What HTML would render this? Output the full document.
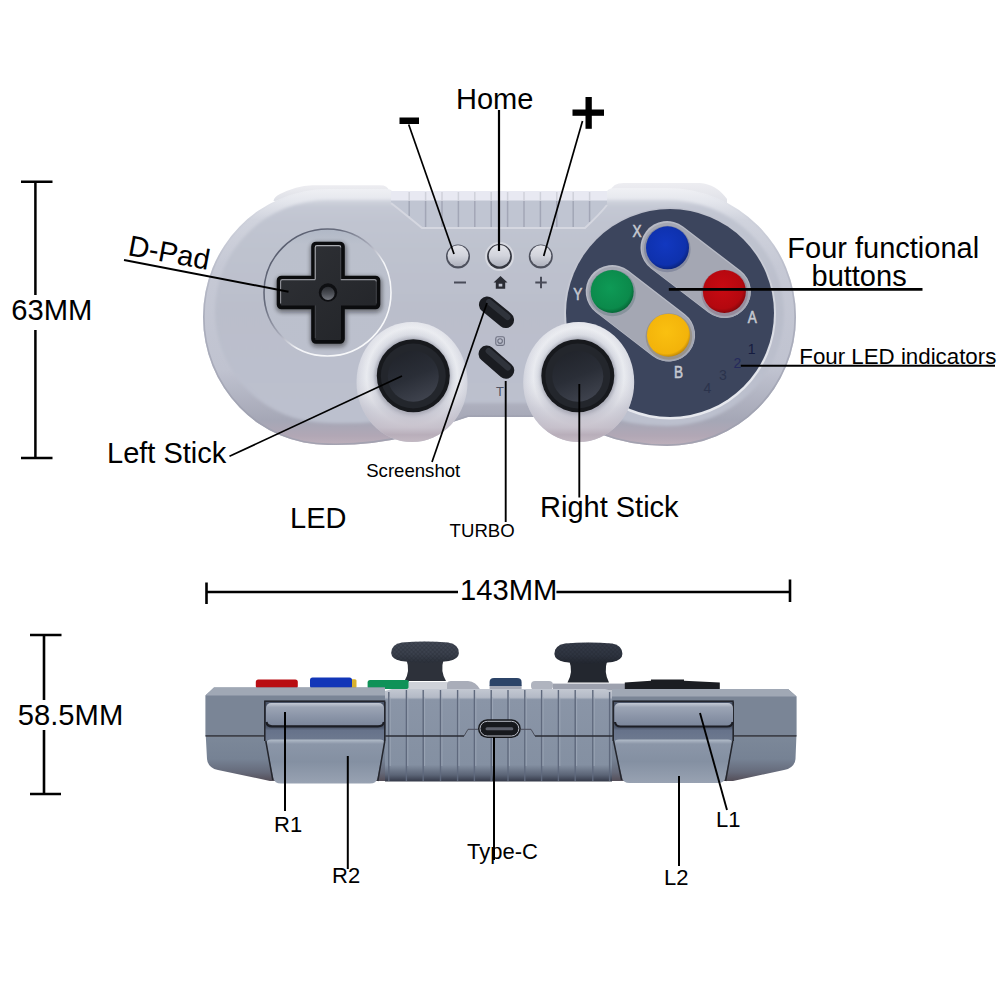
<!DOCTYPE html>
<html><head><meta charset="utf-8">
<style>
html,body{margin:0;padding:0;background:#fff;}
body{width:1000px;height:1000px;overflow:hidden;font-family:"Liberation Sans",sans-serif;}
svg{display:block}
text{font-family:"Liberation Sans",sans-serif;fill:#000}
</style></head><body>
<svg width="1000" height="1000" viewBox="0 0 1000 1000">
<defs>
<filter id="fB2" x="-20%" y="-20%" width="140%" height="140%"><feGaussianBlur stdDeviation="2"/></filter>
<filter id="fB1" x="-5%" y="-5%" width="110%" height="110%"><feGaussianBlur stdDeviation="1.5"/></filter>
<clipPath id="cBody"><path d="M328 189 H386 Q391 189 392 191 H607 Q609 188 616 188 H667 A129 129 0 0 1 667 446 Q630 446 600 434 L562 417 H468 L410 436 Q370 446 328 445 A125 128 0 0 1 328 189Z"/></clipPath>
<linearGradient id="gShoulder" x1="0" y1="0" x2="0" y2="1">
<stop offset="0" stop-color="#ededf1"/><stop offset="1" stop-color="#dddfe6"/>
</linearGradient>
<linearGradient id="gRim" gradientUnits="userSpaceOnUse" x1="0" y1="189" x2="0" y2="446">
<stop offset="0" stop-color="#eff0f4"/><stop offset="0.04" stop-color="#e6e8ee"/><stop offset="0.12" stop-color="#d0d3dd"/><stop offset="0.3" stop-color="#c6c9d5"/><stop offset="0.7" stop-color="#c0c3d0"/><stop offset="0.9" stop-color="#a5a7b6"/><stop offset="0.96" stop-color="#b1a7b5"/><stop offset="1" stop-color="#bfb1bc"/>
</linearGradient>
<linearGradient id="gFace" gradientUnits="userSpaceOnUse" x1="0" y1="199" x2="0" y2="426">
<stop offset="0" stop-color="#d3d6df"/><stop offset="0.035" stop-color="#c4c8d4"/><stop offset="0.1" stop-color="#c0c4d0"/><stop offset="0.5" stop-color="#babecb"/><stop offset="1" stop-color="#bcc0ce"/>
</linearGradient>
<linearGradient id="gWell" x1="0" y1="0" x2="0" y2="1">
<stop offset="0" stop-color="#b0b8c6"/><stop offset="0.12" stop-color="#bbc0cc"/><stop offset="1" stop-color="#bcc0cd"/>
</linearGradient>
<linearGradient id="gWellS" x1="0" y1="0" x2="1" y2="1">
<stop offset="0" stop-color="#4f5466"/><stop offset="0.3" stop-color="#666b7c"/><stop offset="0.48" stop-color="#a9acba"/><stop offset="0.6" stop-color="#f4f5f8"/><stop offset="1" stop-color="#fafbfc"/>
</linearGradient>
<linearGradient id="gDpad" x1="0" y1="0" x2="1" y2="1">
<stop offset="0" stop-color="#2f3136"/><stop offset="1" stop-color="#222428"/>
</linearGradient>
<linearGradient id="gBtn" x1="0" y1="0" x2="0" y2="1">
<stop offset="0" stop-color="#e2e3e9"/><stop offset="0.5" stop-color="#d2d4dc"/><stop offset="1" stop-color="#aeb1bd"/>
</linearGradient>
<radialGradient id="gBlue" cx="0.45" cy="0.42" r="0.6"><stop offset="0" stop-color="#1238c0"/><stop offset="0.8" stop-color="#0e31ad"/><stop offset="1" stop-color="#0a2278"/></radialGradient>
<radialGradient id="gRed" cx="0.45" cy="0.42" r="0.6"><stop offset="0" stop-color="#c80a12"/><stop offset="0.8" stop-color="#b4080f"/><stop offset="1" stop-color="#80060b"/></radialGradient>
<radialGradient id="gGreen" cx="0.45" cy="0.42" r="0.6"><stop offset="0" stop-color="#0e9a56"/><stop offset="0.8" stop-color="#0b8a4b"/><stop offset="1" stop-color="#066234"/></radialGradient>
<radialGradient id="gYellow" cx="0.45" cy="0.42" r="0.6"><stop offset="0" stop-color="#fac010"/><stop offset="0.85" stop-color="#f3b30a"/><stop offset="1" stop-color="#b98208"/></radialGradient>
<radialGradient id="gRing" cx="0.5" cy="0.455" r="0.56">
<stop offset="0.56" stop-color="#aeb1be"/><stop offset="0.63" stop-color="#d4d7e0"/><stop offset="0.73" stop-color="#e9ebf0"/><stop offset="0.85" stop-color="#d8dae3"/><stop offset="0.95" stop-color="#c7cad5"/><stop offset="1" stop-color="#bec1ce"/>
</radialGradient>
<linearGradient id="gRingV" x1="0" y1="0" x2="0" y2="1">
<stop offset="0" stop-color="#f4f4f6" stop-opacity="0.3"/><stop offset="0.45" stop-color="#e6e6ea" stop-opacity="0"/><stop offset="0.72" stop-color="#c6c5d0" stop-opacity="0.6"/><stop offset="0.88" stop-color="#c3bcc7" stop-opacity="0.85"/><stop offset="0.94" stop-color="#b7acb8" stop-opacity="0.95"/><stop offset="1" stop-color="#c3b8c2" stop-opacity="0.95"/>
</linearGradient>
<linearGradient id="gStick" x1="0.3" y1="0" x2="0.7" y2="1">
<stop offset="0" stop-color="#21242b"/><stop offset="0.5" stop-color="#2a2e37"/><stop offset="1" stop-color="#40444f"/>
</linearGradient>
<linearGradient id="gCapL" x1="0" y1="0" x2="0" y2="1"><stop offset="0" stop-color="#434956"/><stop offset="0.6" stop-color="#3a404c"/><stop offset="1" stop-color="#2c313b"/></linearGradient>
<linearGradient id="gCapR" x1="0" y1="0" x2="0" y2="1"><stop offset="0" stop-color="#363c49"/><stop offset="0.6" stop-color="#2e3440"/><stop offset="1" stop-color="#22262f"/></linearGradient>
<linearGradient id="gLow" gradientUnits="userSpaceOnUse" x1="0" y1="737" x2="0" y2="781"><stop offset="0" stop-color="#7c8899"/><stop offset="0.5" stop-color="#768294"/><stop offset="0.8" stop-color="#656a7a"/><stop offset="1" stop-color="#544e58"/></linearGradient>
<linearGradient id="gRidge" gradientUnits="userSpaceOnUse" x1="0" y1="689" x2="0" y2="781.5"><stop offset="0" stop-color="#c3c8d2"/><stop offset="0.09" stop-color="#b4bac6"/><stop offset="0.115" stop-color="#8a95a7"/><stop offset="0.82" stop-color="#8490a2"/><stop offset="0.93" stop-color="#5b6476"/><stop offset="1" stop-color="#343948"/></linearGradient>
<linearGradient id="gR1" x1="0" y1="0" x2="0" y2="1"><stop offset="0" stop-color="#c4cad5"/><stop offset="0.18" stop-color="#9ca5b5"/><stop offset="0.6" stop-color="#8a94a7"/><stop offset="1" stop-color="#7b869b"/></linearGradient>
<linearGradient id="gR2" x1="0" y1="0" x2="0" y2="1"><stop offset="0" stop-color="#b2bcc9"/><stop offset="0.1" stop-color="#8b96a8"/><stop offset="0.5" stop-color="#8490a2"/><stop offset="1" stop-color="#98a2b2"/></linearGradient>
<linearGradient id="gEdgeL" gradientUnits="userSpaceOnUse" x1="0" y1="189" x2="0" y2="446"><stop offset="0" stop-color="#a4a7b6" stop-opacity="0"/><stop offset="0.2" stop-color="#a4a7b6" stop-opacity="0.1"/><stop offset="0.5" stop-color="#a4a7b6" stop-opacity="0.75"/><stop offset="1" stop-color="#9d9fae" stop-opacity="0.8"/></linearGradient>
<pattern id="pHatch" width="3" height="3" patternUnits="userSpaceOnUse" patternTransform="rotate(45)"><rect width="3" height="3" fill="none"/><path d="M0 0H3M0 0V3" stroke="#1c2029" stroke-width="0.9"/></pattern>
<linearGradient id="gDarkRim" x1="0" y1="0" x2="0.3" y2="1"><stop offset="0" stop-color="#b9bcc9"/><stop offset="0.5" stop-color="#c9ccd6"/><stop offset="1" stop-color="#e6e8ee"/></linearGradient>
<linearGradient id="gDimple" x1="0" y1="0" x2="0" y2="1"><stop offset="0" stop-color="#2a2c31"/><stop offset="0.55" stop-color="#4d5057"/><stop offset="1" stop-color="#74777f"/></linearGradient>
<linearGradient id="gBand" gradientUnits="userSpaceOnUse" x1="0" y1="700" x2="0" y2="741"><stop offset="0" stop-color="#4b5569"/><stop offset="0.66" stop-color="#4b5569"/><stop offset="0.74" stop-color="#66728a"/><stop offset="1" stop-color="#6e7a90"/></linearGradient>

</defs>
<rect width="1000" height="1000" fill="#fff"/>
<g id="top">
<!-- shoulder buttons peeking -->
<path d="M273.5 201 Q274 197 280 194 Q296 186 312 185.2 H380 Q388 185.2 389 191 V200 H300Z" fill="url(#gShoulder)"/>
<path d="M611 200 V191 Q612 183 624 183 H700 Q716 184 727 199 V206Z" fill="url(#gShoulder)"/>
<!-- body outer (rim) -->
<g clip-path="url(#cBody)">
<rect x="200" y="185" width="600" height="265" fill="url(#gRim)"/>
<!-- side darkening of rim -->
<path d="M328 189 H386 Q391 189 392 191 H607 Q609 188 616 188 H667 A129 129 0 0 1 667 446 Q630 446 600 434 L562 417 H468 L410 436 Q370 446 328 445 A125 128 0 0 1 328 189Z" fill="none" stroke="url(#gEdgeL)" stroke-width="3.4"/>
</g>
<!-- face -->
<path d="M328 200 H667 A117 113 0 0 1 667 426 Q630 426 600 414 L565 403 H465 L410 416 Q370 425 328 423 A113 111.5 0 0 1 328 200Z" fill="url(#gFace)" filter="url(#fB1)"/>
<!-- ridged recess -->
<path d="M391 191 H607 V205 Q600 214 585 227.5 H422 Q405 214 391 203Z" fill="#c0c5d2"/>
<path d="M391 191 H607 V200.5 H391Z" fill="#e8e9f2"/>
<g stroke="#a2a6b6" stroke-width="1.5">
<path d="M409.2 201V216M425.6 201V227M442 201V227M458.4 201V227M474.8 201V227M491.2 201V227M507.6 201V227M524 201V227M540.4 201V227M556.8 201V227M573.2 201V227M589.6 201V222"/>
</g>
<g stroke="#cfd1da" stroke-width="1.5">
<path d="M409.2 192V201M425.6 192V201M442 192V201M458.4 192V201M474.8 192V201M491.2 192V201M507.6 192V201M524 192V201M540.4 192V201M556.8 192V201M573.2 192V201M589.6 192V201"/>
</g>
<path d="M391 203 Q405 214 422 228 H585 Q600 214 607 205" fill="none" stroke="#d5d7e0" stroke-width="2"/>
<!-- dpad well -->
<circle cx="327.5" cy="292.5" r="63.5" fill="url(#gWell)"/>
<circle cx="327.5" cy="292.5" r="63.5" fill="none" stroke="url(#gWellS)" stroke-width="1.6"/>
<!-- dpad cross -->
<path d="M316 246.5 H340 V280.5 H375.5 V304.5 H340 V339 H316 V304.5 H281.5 V280.5 H316Z" fill="#0b0c0e" stroke="#0b0c0e" stroke-width="12" stroke-linejoin="round" filter="url(#fB2)" opacity="0.45" transform="translate(0.5 2)"/>
<path d="M316 246.5 H340 V280.5 H375.5 V304.5 H340 V339 H316 V304.5 H281.5 V280.5 H316Z" fill="#0b0c0e" stroke="#0b0c0e" stroke-width="9.6" stroke-linejoin="round"/>
<path d="M316 246.5 H340 V280.5 H375.5 V304.5 H340 V339 H316 V304.5 H281.5 V280.5 H316Z" fill="url(#gDpad)" stroke="url(#gDpad)" stroke-width="2" stroke-linejoin="round"/>
<path d="M315.2 279.5V247.5Q315.2 245.6 317 245.6H339Q340.8 245.6 340.8 247.5" fill="none" stroke="#c3c5cb" stroke-width="1.1" opacity="0.85"/>
<path d="M280.6 303.5V281.5Q280.6 279.6 282.5 279.6H315.2M340.8 279.6H374.5Q376.3 279.6 376.3 281.5" fill="none" stroke="#b0b2b9" stroke-width="1.1" opacity="0.8"/>
<path d="M340.8 247.5V279.6M376.3 281.5V303.5M315.2 305.5V338" fill="none" stroke="#6d7078" stroke-width="0.8" opacity="0.6"/>
<circle cx="328" cy="292.5" r="9.2" fill="#0e0f12"/>
<circle cx="328" cy="293.4" r="6.6" fill="url(#gDimple)"/>
<!-- dark circle -->
<circle cx="670" cy="313.6" r="106" fill="url(#gDarkRim)"/>
<circle cx="670" cy="313" r="104" fill="#3c455d"/>
<!-- pills -->
<g stroke="#b7bac5" stroke-width="53" stroke-linecap="round">
<path d="M667 247.5L724.4 291.5"/>
<path d="M612.2 291.5L668.6 335"/>
</g>
<g stroke="#a4a7b3" stroke-width="51" stroke-linecap="round">
<path d="M667.5 248.3L724.9 292.3"/>
<path d="M612.7 292.3L669.1 335.8"/>
</g>
<circle cx="667.3" cy="249" r="23.3" fill="#6e7490" opacity="0.55"/>
<circle cx="724.7" cy="293" r="23.3" fill="#8a7486" opacity="0.55"/>
<circle cx="612.5" cy="293" r="23.3" fill="#6f8488" opacity="0.55"/>
<circle cx="668.9" cy="336.5" r="23.3" fill="#8f8468" opacity="0.55"/>
<circle cx="667.5" cy="247.8" r="21.5" fill="url(#gBlue)"/>
<circle cx="724.4" cy="291.5" r="21.5" fill="url(#gRed)"/>
<circle cx="612.2" cy="291.5" r="21.5" fill="url(#gGreen)"/>
<circle cx="668.5" cy="335.2" r="21.5" fill="url(#gYellow)"/>
<!-- letters -->
<g font-size="17" text-anchor="middle" stroke="#c6c9d1" stroke-width="0.6">
<text transform="translate(637 236.8) scale(0.8 1)" style="fill:#c6c9d1">X</text>
<text transform="translate(577.8 300.2) scale(0.8 1)" style="fill:#c6c9d1">Y</text>
<text transform="translate(752.3 323.2) scale(0.8 1)" style="fill:#c6c9d1">A</text>
<text transform="translate(678.6 377.8) scale(0.8 1)" style="fill:#c6c9d1">B</text>
</g>
<g font-size="14" text-anchor="middle">
<text x="751.7" y="354" style="fill:#151c40">1</text>
<text x="737.5" y="368" style="fill:#252a5c">2</text>
<text x="722.9" y="380" style="fill:#2b334c">3</text>
<text x="707.4" y="393" style="fill:#2b334c">4</text>
</g>
<!-- small round buttons -->
<g>
<circle cx="499.5" cy="256.5" r="14.5" fill="#d6d8e0"/>
<circle cx="458" cy="256.4" r="12" fill="#4d505d"/>
<circle cx="499.5" cy="256.4" r="12.4" fill="#34363f"/>
<circle cx="540.8" cy="256.4" r="12" fill="#4d505d"/>
<circle cx="458" cy="255.8" r="10.5" fill="url(#gBtn)"/>
<circle cx="499.5" cy="255.8" r="10.7" fill="url(#gBtn)"/>
<circle cx="540.8" cy="255.8" r="10.5" fill="url(#gBtn)"/>
</g>
<!-- icons -->
<path d="M454 282.5H466" stroke="#484b58" stroke-width="2"/>
<path d="M535.3 282.5H546.7M541 276.8V288.2" stroke="#484b58" stroke-width="2"/>
<path d="M500.5 276L507.5 282.5H505.2V288.8H495.8V282.5H493.5Z M498.7 283.7V286.6H502.3V283.7Z" fill="#2a2c34" fill-rule="evenodd"/>
<!-- pills dark -->
<g stroke="#1a1c21" stroke-width="16.5" stroke-linecap="round">
<path d="M487.2 304.7L505.8 319.8"/>
<path d="M486.8 353.8L506 370.4"/>
</g>
<g stroke="#353942" stroke-width="6" stroke-linecap="round" opacity="0.8">
<path d="M489 302L507.5 317"/>
<path d="M488.6 351L507.8 367.6"/>
</g>
<rect x="495.8" y="336.8" width="8.6" height="8.6" rx="1.8" fill="none" stroke="#6d7080" stroke-width="1.1"/>
<circle cx="500.1" cy="341.1" r="2.3" fill="none" stroke="#6d7080" stroke-width="1.1"/>
<text x="500" y="395.8" font-size="13" text-anchor="middle" style="fill:#4f5262">T</text>
<!-- stick rings -->
<g>
<ellipse cx="412" cy="382" rx="55.5" ry="60" fill="url(#gRing)"/>
<ellipse cx="578.7" cy="382" rx="55.5" ry="60" fill="url(#gRing)"/>
<ellipse cx="412" cy="382" rx="55.5" ry="60" fill="url(#gRingV)"/>
<ellipse cx="578.7" cy="382" rx="55.5" ry="60" fill="url(#gRingV)"/>
</g>
<circle cx="413.3" cy="376.6" r="38" fill="#8a8c98" opacity="0.35" filter="url(#fB1)"/>
<circle cx="577.8" cy="376.6" r="38" fill="#8a8c98" opacity="0.35" filter="url(#fB1)"/>
<circle cx="413.3" cy="375.8" r="36.5" fill="#17191d"/>
<circle cx="413.3" cy="376" r="32.5" fill="#23262c"/>
<circle cx="413.3" cy="376.3" r="25.5" fill="url(#gStick)"/>
<circle cx="577.8" cy="375.8" r="36.5" fill="#17191d"/>
<circle cx="577.8" cy="376" r="32.5" fill="#23262c"/>
<circle cx="577.8" cy="376.3" r="25.5" fill="url(#gStick)"/>

</g>
<g id="rear">
<!-- sticks -->
<path d="M406.5 660 Q410.5 671 404.5 681 H446 Q440 671 443.5 660Z" fill="#2d313a"/>
<path id="capL" d="M391.2 653 Q391.2 644.5 402 642.6 Q425 640.2 448 642.6 Q458.9 644.5 458.9 653 Q458.6 659 449 661 Q425 664.3 401 661 Q391.5 659 391.2 653Z" fill="url(#gCapL)"/>
<path d="M391.2 653 Q391.2 644.5 402 642.6 Q425 640.2 448 642.6 Q458.9 644.5 458.9 653 Q458.6 659 449 661 Q425 664.3 401 661 Q391.5 659 391.2 653Z" fill="url(#pHatch)" opacity="0.5"/>
<path d="M569.3 661 Q573.5 672 567.5 682.5 H609 Q603.5 672 607.2 661Z" fill="#23272f"/>
<path d="M554.4 654 Q554.4 645.5 565 643.6 Q588.4 641.2 612 643.6 Q622.4 645.5 622.4 654 Q622.1 660 612.5 662 Q588.4 665.3 564.5 662 Q554.7 660 554.4 654Z" fill="url(#gCapR)"/>
<path d="M554.4 654 Q554.4 645.5 565 643.6 Q588.4 641.2 612 643.6 Q622.4 645.5 622.4 654 Q622.1 660 612.5 662 Q588.4 665.3 564.5 662 Q554.7 660 554.4 654Z" fill="url(#pHatch)" opacity="0.5"/>
<!-- top face buttons -->
<rect x="255.8" y="679.6" width="42" height="9" rx="2.5" fill="#b90d12"/>
<rect x="346" y="679.3" width="10.5" height="9" rx="1.5" fill="#d8b12e"/>
<rect x="310" y="677.6" width="42" height="11" rx="2.5" fill="#1236b8"/>
<rect x="367.6" y="680" width="41.5" height="9" rx="2.5" fill="#0f9258"/>
<rect x="408.5" y="682" width="39" height="8" fill="#cfd2d9"/>
<path d="M447 690 V684 Q447 681 451 681 H468 Q476 681.5 480.5 690Z" fill="#a9adb9"/>
<rect x="489.6" y="684.5" width="32" height="5.5" rx="1" fill="#a5a9b6"/>
<path d="M489.6 686 V682 Q489.6 678 494 678 H517 Q521.6 678 521.6 682 V686Z" fill="#2c4468"/>
<rect x="531" y="681" width="22" height="9" rx="4" fill="#b0b4bf"/>
<rect x="553" y="683.6" width="72" height="7" fill="#9da1ae"/>
<path d="M624.8 682.5 L651 680.8 V679.6 H684 V680.8 L719.8 682.5 V690 H624.8Z" fill="#1b1d22"/>
<!-- body upper -->
<path d="M214 687.4 H385 V736 H205.4 V695.5 Z" fill="#7a8596"/>
<path d="M214 687.4 H385 V695.5 H205.4 Z" fill="#a0a8b5"/>
<path d="M612 689 H788 L796.6 696.5 V736 H612 Z" fill="#7a8596"/>
<path d="M612 689 H788 L796.6 696.5 H612 Z" fill="#a0a8b5"/>
<!-- body lower -->
<path d="M205.8 736.5 H385 V781 H270 L218 770 Q208 768 207 759 Z" fill="url(#gLow)"/>
<path d="M612 736.5 H796.4 L795.5 759 Q794.5 768 784 770 L733 781 H612 Z" fill="url(#gLow)"/>
<!-- ridged centre -->
<path d="M385 691 L392 689 H605 L612 691 V781.5 H385Z" fill="url(#gRidge)"/>
<g stroke="#5f697d" stroke-width="1.4">
<path d="M388.8 692V781M406.4 690V781M423.2 690V781M440.5 690V781M457.6 690V781M474.4 690V781M491.2 690V781M508 690V781M524.8 690V781M541.6 690V781M558.4 690V781M575.2 690V781M592.8 690V781M609.6 692V781"/>
</g>
<g stroke="#a3adbc" stroke-width="1" opacity="0.7">
<path d="M390.2 697V766M407.8 697V766M424.6 697V766M441.9 697V766M459 697V766M475.8 697V766M492.6 697V766M509.4 697V766M526.2 697V766M543 697V766M559.8 697V766M576.6 697V766M594.2 697V766"/>
</g>
<!-- seam -->
<path d="M205.5 736H265M385 736H464M535 736H613.6M733 736H796.5" stroke="#2b2d35" stroke-width="1.3" fill="none"/>
<path d="M464 736 L468 729.3 H478 M521 729.3 H531 L535 736" stroke="#4a4d59" stroke-width="1" fill="none"/>
<!-- shoulder recess -->
<rect x="264.8" y="700.5" width="120.5" height="40" fill="url(#gBand)"/>
<rect x="613.2" y="700.5" width="120.5" height="40" fill="url(#gBand)"/>
<path d="M264.8 741 V701.2 H385.3 M613.2 741 V701.2 H733.7 M384.8 702 V741 M733.2 702 V741" stroke="#24262d" stroke-width="1.6" fill="none"/>
<!-- R1 / L1 -->
<rect x="266" y="703" width="118" height="22.8" rx="5" fill="url(#gR1)"/>
<path d="M266.5 722 Q267 726.3 272 726.3 H378 Q383.5 726.3 383.7 722" stroke="#1c1e25" stroke-width="2.2" fill="none"/>
<rect x="614.4" y="703" width="118.6" height="23" rx="5" fill="url(#gR1)"/>
<path d="M615 722 Q615.5 726.5 620.5 726.5 H727 Q732.3 726.5 732.5 722" stroke="#1c1e25" stroke-width="2.2" fill="none"/>
<!-- R2 / L2 -->
<path d="M266.6 743 Q266.8 739.6 271 739.6 H380 Q384 739.6 384 743 L377.5 778 Q376.5 783.5 370 783.5 H281 Q274.5 783.5 273.3 778Z" fill="url(#gR2)"/>
<path d="M614.4 743 Q614.6 739.6 619 739.6 H728 Q732 739.6 732 743 L725.3 778 Q724.3 783 718 783 H629.5 Q623.3 783 622.2 778Z" fill="url(#gR2)"/>
<path d="M265.8 741L272.8 780M384.8 741L377.8 781M613.6 741L621.6 780M732.8 741L725.6 781" stroke="#24262d" stroke-width="1.5" fill="none"/>
<!-- USB-C -->
<rect x="478" y="719.3" width="42.8" height="18.7" rx="9.3" fill="#17191d"/>
<rect x="480" y="721.3" width="38.8" height="14.7" rx="7.3" fill="none" stroke="#b9bcc6" stroke-width="1"/>
<rect x="485.5" y="727.2" width="27.8" height="3" rx="1.5" fill="#5d606b"/>

</g>
<g id="ann" stroke="#000" stroke-width="1.7" fill="none">
<!-- dimension lines -->
<path d="M35.4 182V295M35.4 330V458M21 181.8H52.5M21 458H52.5" stroke-width="2.5"/>
<path d="M44 635V700M44 730V794M30 635H61.5M30 794H61" stroke-width="2.6"/>
<path d="M206.5 592H458M556.4 592H790M206.5 582.5V604M790 579.5V602" stroke-width="2.6"/>
<!-- callouts -->
<path d="M408.7 124.5L454 254"/>
<path d="M499 110V251" stroke-width="2.2"/>
<path d="M582.5 121L543.7 256"/>
<path d="M124 260L288.5 291.7" stroke-width="1.9"/>
<path d="M229.5 456.3L402 376"/>
<path d="M432 462L487 303"/>
<path d="M505.7 522V381" stroke-width="1.9"/>
<path d="M579.3 384V497.5" stroke-width="1.9"/>
<path d="M668.8 289.4H922.5" stroke-width="2.7"/>
<path d="M740.8 365.8H995" stroke-width="2"/>
<path d="M285 712V811" stroke-width="2"/>
<path d="M347.8 756V869" stroke-width="2"/>
<path d="M494 737V860" stroke-width="2"/>
<path d="M700 713L727 810" stroke-width="1.9"/>
<path d="M679 776V866" stroke-width="2"/>
</g>
<g id="labels">
<rect x="399.5" y="117.5" width="19.5" height="6.5" fill="#000"/>
<rect x="572.5" y="109.5" width="31.5" height="6.3" fill="#000"/>
<rect x="585.5" y="97" width="6.3" height="31.8" fill="#000"/>
<text x="456" y="108.8" font-size="29">Home</text>
<text x="11.2" y="320" font-size="29.2">63MM</text>
<text x="0" y="0" font-size="29" transform="translate(127 255) rotate(10.5)">D-Pad</text>
<text x="107" y="463" font-size="29">Left Stick</text>
<text x="290" y="528" font-size="29">LED</text>
<text x="540" y="517" font-size="29">Right Stick</text>
<text x="787.3" y="257.5" font-size="29">Four functional</text>
<text x="811.5" y="285.6" font-size="29">buttons</text>
<text x="799.3" y="363.8" font-size="22.3">Four LED indicators</text>
<text x="366.2" y="476.7" font-size="18.6">Screenshot</text>
<text x="449.6" y="536.7" font-size="18.6">TURBO</text>
<text x="460" y="600.3" font-size="29.2">143MM</text>
<text x="17.8" y="725.3" font-size="29.2">58.5MM</text>
<text x="274" y="832" font-size="22">R1</text>
<text x="332" y="883" font-size="22">R2</text>
<text x="467" y="859" font-size="22">Type-C</text>
<text x="716" y="827" font-size="22">L1</text>
<text x="664" y="885" font-size="22">L2</text>
</g>
</svg>
</body></html>
